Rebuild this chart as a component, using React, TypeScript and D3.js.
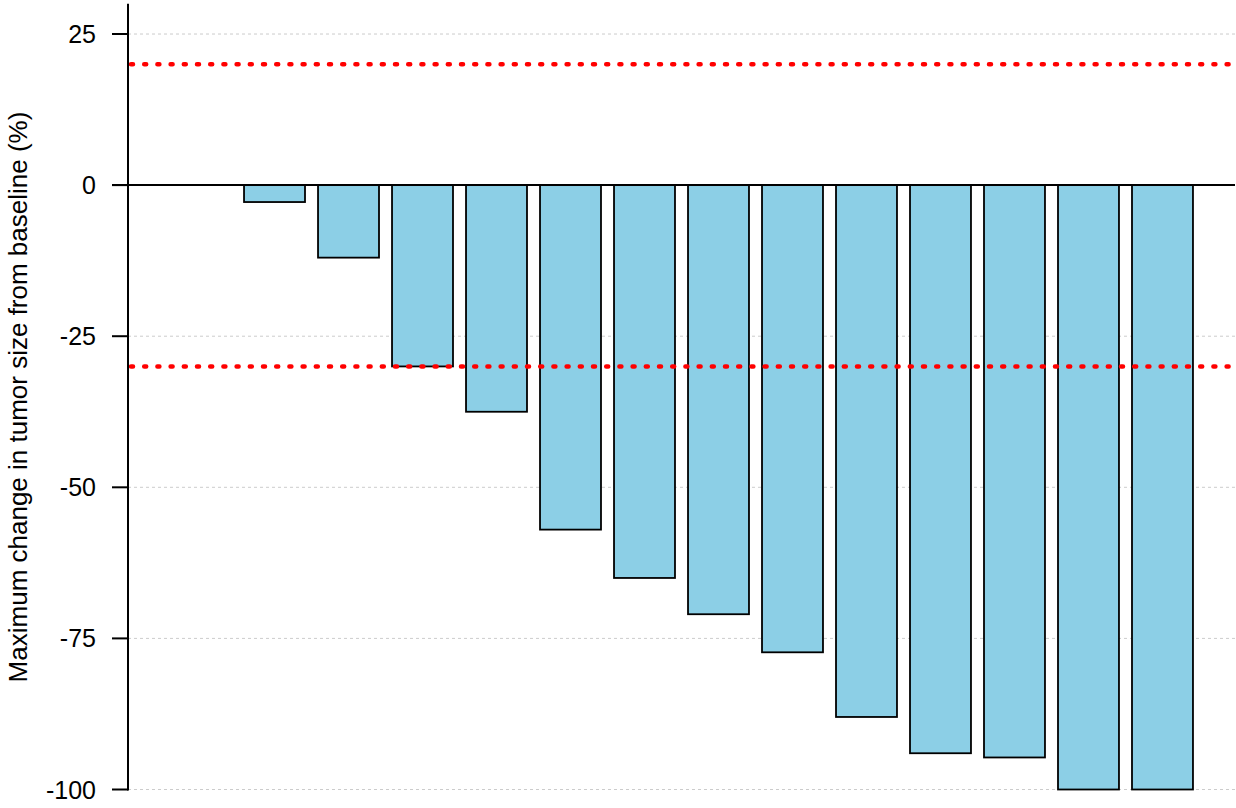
import React from "react";
import * as d3 from "d3";

const patients = ["P1","P2","P3","P4","P5","P6","P7","P8","P9","P10","P11","P12","P13","P14"];
const changes = [0, -2.8, -12, -30, -37.5, -57, -65, -71, -77.3, -88, -94, -94.7, -100, -100];
const yTicks = [25, 0, -25, -50, -75, -100];
const refLines = [20, -30];

const W = 1236, H = 808;
const left = 128, right = 1235, top = 3.8, bottom = 789.5;

export default function App() {
  const y = d3.scaleLinear().domain([-100, 30]).range([bottom, top]);
  const x = d3.scaleBand<string>().domain(patients).range([left, right]).paddingInner(0.176).paddingOuter(0.568);
  return (
    <svg width={W} height={H} style={{ position: "absolute", left: 0, top: 0 }} fontFamily="Liberation Sans, Arial, sans-serif">
      {yTicks.filter(t => t !== 0).map(t => (
        <line key={"g" + t} x1={left} x2={right} y1={y(t)} y2={y(t)} stroke="#cccccc" strokeWidth={1} strokeDasharray="3 3" />
      ))}
      {patients.map((p, i) => {
        const v = changes[i];
        if (v === 0) return null;
        const y0 = y(0), y1 = y(v);
        return (
          <rect key={p} x={x(p)} y={Math.min(y0, y1)} width={x.bandwidth()} height={Math.abs(y1 - y0)} fill="#8ccfe6" stroke="#000" strokeWidth={1.8} />
        );
      })}
      {refLines.map(r => (
        <line key={"r" + r} x1={left + 3} x2={right} y1={y(r)} y2={y(r)} stroke="#ff0000" strokeWidth={4.5} strokeLinecap="round" strokeDasharray="2 11.2" />
      ))}
      <line x1={112} x2={right} y1={y(0)} y2={y(0)} stroke="#000" strokeWidth={2} />
      <line x1={left} x2={left} y1={top} y2={bottom + 1} stroke="#000" strokeWidth={2} />
      {yTicks.map(t => (
        <g key={"t" + t}>
          <line x1={112} x2={left} y1={y(t)} y2={y(t)} stroke="#000" strokeWidth={2} />
          <text x={96} y={y(t)} dy="0.36em" textAnchor="end" fontSize={25} fill="#000">{t}</text>
        </g>
      ))}
      <text transform={`translate(27,397) rotate(-90)`} textAnchor="middle" fontSize={26} fill="#000">
        Maximum change in tumor size from baseline (%)
      </text>
    </svg>
  );
}
